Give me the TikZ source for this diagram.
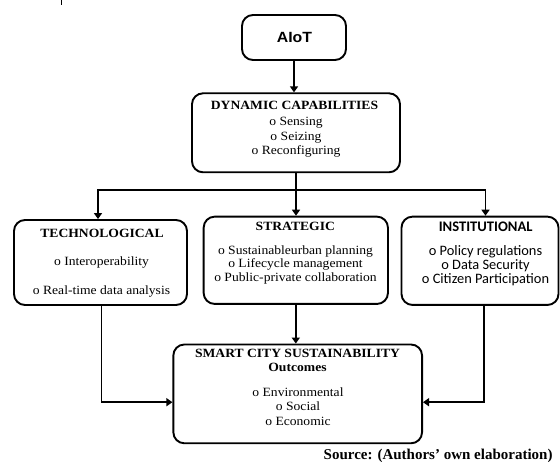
\documentclass[tikz,border=0pt]{standalone}
\usepackage{fontspec}
\setmainfont{Liberation Serif}
\newfontfamily\calfont{Carlito}
\newfontfamily\arialfont{Liberation Sans}
\usetikzlibrary{arrows.meta,calc}
\newcommand\hs[1]{\scalebox{1.08}[1]{#1}}
\begin{document}
\begin{tikzpicture}[x=1pt,y=-1pt,
 box/.style={draw,line width=1.9pt,rounded corners=11pt,inner sep=0pt},
 ln/.style={anchor=base,inner sep=0pt,font=\fontsize{12.6}{14}\selectfont},
 ttl/.style={anchor=base,inner sep=0pt,font=\fontsize{12.6}{14}\selectfont\bfseries},
 cln/.style={anchor=base,inner sep=0pt,font=\fontsize{14.4}{14}\selectfont\calfont},
 conn/.style={line width=1.9pt},
 arr/.style={conn,-{Triangle[width=8pt,length=6pt]}},
]
\useasboundingbox (0,0) rectangle (560,462);
\draw[line width=1pt] (61.7,0) -- (61.7,5);
% boxes
\node[box,minimum width=104pt,minimum height=45pt] (aiot) at (294,37.5) {};
\node[box,minimum width=208pt,minimum height=79pt] (dc) at (296,132.8) {};
\node[box,minimum width=173pt,minimum height=85pt] (tech) at (100.5,262.5) {};
\node[box,minimum width=184.3pt,minimum height=87.3pt] (strat) at (295.8,260.3) {};
\node[box,minimum width=157pt,minimum height=88.3pt] (inst) at (480,260.8) {};
\node[box,minimum width=248.7pt,minimum height=98.8pt] (scs) at (297.7,393.9) {};
% texts
\node[anchor=base,inner sep=0pt,font=\fontsize{14.8}{14}\selectfont\arialfont\bfseries] (ta) at (294.5,42.3) {\scalebox{1.07}[1]{AIoT}};
\node[ttl] (d0) at (294.5,110) {\hs{DYNAMIC CAPABILITIES}};
\node[ln] (d1) at (296,126) {\hs{o Sensing}};
\node[ln] (d2) at (296,140.3) {\hs{o Seizing}};
\node[ln] (d3) at (296,154.5) {\hs{o Reconfiguring}};
\node[ttl] (t0) at (102,237.3) {\hs{TECHNOLOGICAL}};
\node[ln] (t1) at (101.5,265.7) {\hs{o Interoperability}};
\node[ln] (t2) at (101.5,294.5) {\hs{o Real-time data analysis}};
\node[ttl] (s0) at (295.3,230.7) {\hs{STRATEGIC}};
\node[ln] (s1) at (295.5,254.5) {\hs{o Sustainableurban planning}};
\node[ln] (s2) at (295.5,268) {\hs{o Lifecycle management}};
\node[ln] (s3) at (295.5,282) {\hs{o Public-private collaboration}};
\node[cln,font=\fontsize{14.6}{14}\selectfont\calfont\bfseries] (i0) at (485.7,231.7) {INSTITUTIONAL};
\node[cln] (i1) at (485.5,255.5) {o Policy regulations};
\node[cln] (i2) at (485.5,269.5) {o Data Security};
\node[cln] (i3) at (485.5,283.5) {o Citizen Participation};
\node[ttl] (c0) at (297.5,358) {\hs{SMART CITY SUSTAINABILITY}};
\node[ttl] (c1) at (297.5,371.5) {\hs{Outcomes}};
\node[ln] (c2) at (298,396.7) {\hs{o Environmental}};
\node[ln] (c3) at (298,411) {\hs{o Social}};
\node[ln] (c4) at (298,425) {\hs{o Economic}};
\node[anchor=base west,inner sep=0pt,font=\fontsize{15}{15}\selectfont\bfseries] (src) at (323.5,459.5) {Source: (Authors’ own elaboration)};
% connectors
\draw[arr] (aiot.south) -- (aiot.south |- dc.north);
\draw[conn] (dc.south) -- ++(0,16.7) coordinate (j);
\coordinate (ta1) at ($(tech.north)+(-2.5,0)$);
\coordinate (ia) at ($(inst.north)+(5.5,0)$);
\draw[conn,line cap=rect] (ta1 |- j) -- (ia |- j);
\draw[arr] (ta1 |- j) -- (ta1);
\draw[arr] (j) -- (j |- strat.north);
\draw[arr] (ia |- j) -- (ia);
\coordinate (tb) at ($(tech.south)+(1,0)$);
\coordinate (sl) at ($(scs.west)+(0,8.3)$);
\draw[arr] (tb) |- (sl);
\draw[arr] (strat.south) -- (strat.south |- scs.north);
\coordinate (ib) at ($(inst.south)+(4,0)$);
\coordinate (sr) at ($(scs.east)+(0,8.3)$);
\draw[arr] (ib) |- (sr);
\end{tikzpicture}
\end{document}
